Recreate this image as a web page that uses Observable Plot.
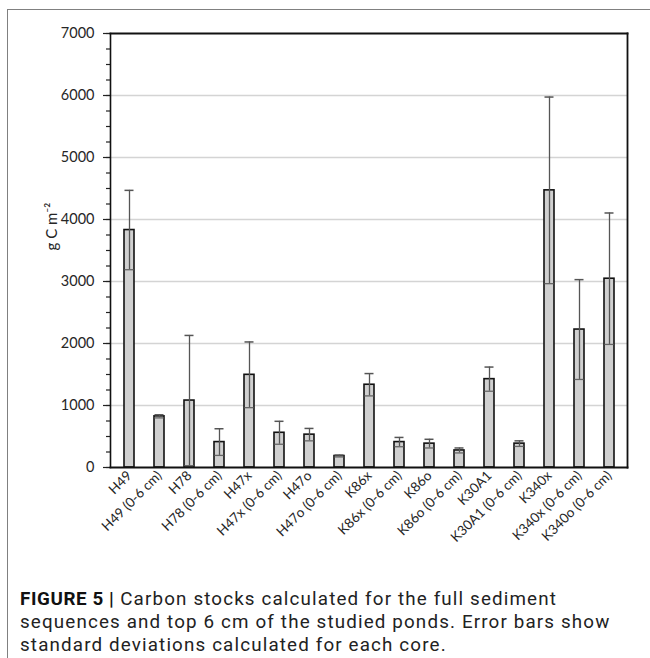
<!DOCTYPE html>
<html>
<head>
<meta charset="utf-8">
<script src="https://cdn.jsdelivr.net/npm/d3@7"></script>
<script src="https://cdn.jsdelivr.net/npm/@observablehq/plot@0.6"></script>
<style>
  html, body { margin: 0; padding: 0; background: #fff; }
  body { width: 650px; height: 658px; position: relative; overflow: hidden; }
  #frame { position: absolute; left: 7px; top: 9px; width: 700px; height: 700px;
           border-top: 1px solid #808080; border-left: 1px solid #808080; }
  #chart { position: absolute; left: 0; top: 0; }
  #caption { position: absolute; left: 20px; top: 588px; width: 628px; white-space: nowrap;
             font-family: Roboto, "Noto Sans", sans-serif; font-size: 18.8px;
             line-height: 22.8px; color: #222; letter-spacing: 1.15px; }
  #caption b { font-weight: 700; color: #111; letter-spacing: 0.6px; }
</style>
</head>
<body>
<div id="frame"></div>
<div id="chart"></div>
<div id="caption"><b>FIGURE 5 |</b> Carbon stocks calculated for the full sediment<br>sequences and top 6 cm of the studied ponds. Error bars show<br>standard deviations calculated for each core.</div>
<script>
const cores = ["H49", "H49 (0-6 cm)", "H78", "H78 (0-6 cm)", "H47x", "H47x (0-6 cm)",
  "H47o", "H47o (0-6 cm)", "K86x", "K86x (0-6 cm)", "K86o", "K86o (0-6 cm)",
  "K30A1", "K30A1 (0-6 cm)", "K340x", "K340x (0-6 cm)", "K340o (0-6 cm)"];
const stocks = [3830, 825, 1080, 410, 1495, 560, 530, 185, 1335, 410, 385, 275,
  1425, 385, 4470, 2225, 3045];
const stdevs = [640, 25, 1050, 215, 530, 185, 100, 15, 180, 75, 70, 40,
  195, 45, 1505, 805, 1060];
const yTicks = [0, 1000, 2000, 3000, 4000, 5000, 6000, 7000];
const gridTicks = [1000, 2000, 3000, 4000, 5000, 6000];
const yLabel = ["g C m\u207B\u00B2"];

const data = cores.map((c, i) => ({core: c, value: stocks[i], sd: stdevs[i],
  lo: Math.max(0, stocks[i] - stdevs[i]), hi: stocks[i] + stdevs[i]}));

const chart = Plot.plot({
  width: 650,
  height: 585,
  marginLeft: 110,
  marginRight: 23,
  marginTop: 33,
  marginBottom: 118,
  style: {fontFamily: "Lato, 'Open Sans', sans-serif", fontSize: "13.5px", color: "#262626", background: "transparent"},
  x: {domain: cores, paddingInner: 0.68, paddingOuter: 0.34, label: null},
  y: {domain: [0, 7000], label: null},
  marks: [
    Plot.gridY(gridTicks, {stroke: "#d4d4d4", strokeOpacity: 1, strokeWidth: 1.5}),
    Plot.axisY(d3.range(0, 7001, 250), {tickSize: 4, text: null, stroke: "#222", strokeWidth: 1.2}),
    Plot.axisY(yTicks, {tickSize: 7, tickPadding: 9, tickFormat: d => String(d), stroke: "#222", strokeWidth: 1.2,
      label: null, fontSize: 14.5}),
    Plot.text(yLabel, {frameAnchor: "left", rotate: -90, dx: -58, fontSize: 15, fill: "#262626"}),
    Plot.axisX({tickSize: 0, tickPadding: 6, tickRotate: -45, fontSize: 13.5}),
    Plot.barY(data, {x: "core", y: "value", fill: "#d0d0d0", stroke: "#111", strokeWidth: 1.6}),
    Plot.ruleX(data, {x: "core", y1: "lo", y2: "hi", stroke: "#555", strokeWidth: 1.3}),
    Plot.tickY(data, {x: "core", y: "hi", stroke: "#555", strokeWidth: 1.5, inset: 0.5}),
    Plot.tickY(data.filter(d => d.value - d.sd > 0), {x: "core", y: "lo", stroke: "#666", strokeWidth: 1.3, inset: 0.5}),
    Plot.frame({anchor: "top", stroke: "#111", strokeWidth: 1.8}),
    Plot.frame({anchor: "right", stroke: "#111", strokeWidth: 1.8}),
    Plot.frame({anchor: "left", stroke: "#111", strokeWidth: 1.6}),
    Plot.frame({anchor: "bottom", stroke: "#111", strokeWidth: 1.8})
  ]
});
document.getElementById("chart").appendChild(chart);
</script>
</body>
</html>
